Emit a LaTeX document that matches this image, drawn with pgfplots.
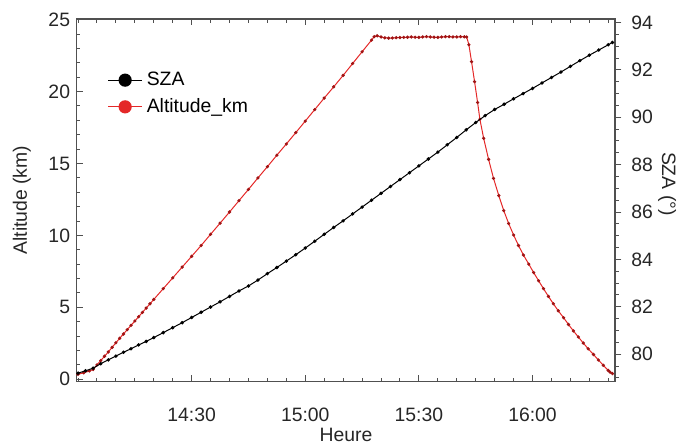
\documentclass[border=0pt]{standalone}
\usepackage{fontspec}
\setmainfont{Liberation Sans}
\usepackage{pgfplots}
\pgfplotsset{compat=1.18}

\definecolor{altred}{RGB}{228,40,40}
\definecolor{altdot}{RGB}{160,20,20}
\definecolor{axgray}{RGB}{80,80,80}

% minutes after 14:00
\pgfplotstableread{
t    alt
0    0.35
1.5  0.45
3    0.58
4    0.68
5    1.00
6    1.30
7    1.60
8    1.90
9    2.22
10   2.54
11   2.85
12   3.15
13   3.45
14   3.75
15   4.05
16   4.35
17   4.65
18   4.95
19   5.25
20   5.55
22.5 6.30
25   7.05
27.5 7.80
30   8.55
32.5 9.30
35   10.08
37.5 10.85
40   11.63
42.5 12.42
45   13.20
47.5 14.00
50   14.78
52.5 15.58
55   16.36
57.5 17.15
60   17.95
62.5 18.75
65   19.55
67.5 20.33
70   21.13
72.5 21.95
75   22.77
77.5 23.58
78.2 23.82
79   23.88
80   23.80
81   23.74
82   23.72
83   23.73
84   23.75
85   23.76
86   23.77
87   23.78
88   23.80
89   23.78
90   23.77
91   23.80
92   23.82
93   23.80
94   23.78
95   23.77
96   23.80
97   23.82
98   23.82
99   23.80
100  23.80
101  23.82
102  23.81
102.6 23.80
103.2 23.26
103.9 22.08
104.7 20.69
105.5 19.24
106.1 18.08
107.1 16.75
108.4 15.29
109.7 13.97
111.1 12.77
112.4 11.73
113.7 10.83
115.0 10.03
116.3 9.30
117.6 8.64
119.0 8.01
120.3 7.42
121.6 6.85
122.9 6.30
124.2 5.76
125.5 5.25
126.8 4.76
128.2 4.28
129.5 3.81
130.8 3.36
132.1 2.94
133.4 2.52
134.7 2.12
136.1 1.72
137.4 1.34
138.7 0.97
140.0 0.61
140.5 0.49
141.1 0.40
}\alttable

\pgfplotstableread{
t     sza
0     79.20
2     79.30
4     79.41
6     79.60
8     79.76
10    79.92
12    80.08
14    80.23
16    80.39
18    80.54
20    80.70
22.5  80.91
25    81.12
27.5  81.33
30    81.55
32.5  81.77
35    81.99
37.5  82.21
40    82.44
42.5  82.67
45    82.88
47.5  83.13
50    83.40
52.5  83.66
55    83.93
57.5  84.20
60    84.48
62.5  84.77
65    85.06
67.5  85.35
70    85.63
72.5  85.92
75    86.21
77.5  86.50
80    86.79
82.5  87.08
85    87.37
87.5  87.66
90    87.95
92.5  88.24
95    88.53
97.5  88.84
100   89.15
102.5 89.47
105   89.78
107.5 90.07
110   90.33
112.5 90.55
115   90.78
117.5 91.00
120   91.22
122.5 91.45
125   91.68
127.5 91.91
130   92.15
132.5 92.39
135   92.62
137.5 92.84
140   93.06
141.1 93.16
}\szatable

\pgfplotsset{
  base/.style={
    width=269.5pt, height=181.5pt, scale only axis,
    at={(0,0)}, anchor=south west,
    xmin=-0.3, xmax=141.8,
    /pgf/number format/assume math mode=true,
    tick label style={font=\fontsize{9.7}{11.6}\selectfont, text=black!85},
    label style={font=\fontsize{9.7}{11.6}\selectfont, text=black!85},
    axis line style={axgray, line width=0.6pt},
    major tick length=3.2pt, minor tick length=1.8pt,
    every tick/.style={axgray, line width=0.5pt},
  }
}

\begin{document}
\fontsize{9.7}{11.6}\selectfont
\begin{tikzpicture}
\path[use as bounding box] (-38.5pt,-31.5pt) rectangle (302pt,191pt);

\begin{axis}[base,
  ymin=-0.15, ymax=25.05,
  ytick={0,5,...,25}, minor ytick={0,1,...,25},
  xtick={30,60,90,120}, xticklabels={14:30,15:00,15:30,16:00},
  minor xtick={0,5,...,140},
  tick align=inside, ytick pos=left, xtick pos=both,
  xticklabel pos=bottom,
  xticklabel style={yshift=-10pt},
  xlabel={Heure}, ylabel={Altitude (km)},
  xlabel style={at={([yshift=-26.8pt]axis description cs:0.5,0)}, anchor=center},
  ylabel style={at={([xshift=-27.5pt]axis description cs:0,0.5)}, anchor=center},
  legend style={at={(axis description cs:0.045,0.877)}, anchor=north west,
    draw=none, fill=none, font=\fontsize{9.7}{11.6}\selectfont,
    row sep=1pt},
  legend cell align=left,
]
\addlegendimage{black, line width=0.6pt, mark=*, mark size=3pt}
\addlegendentry{SZA}
\addlegendimage{altred, line width=0.6pt, mark=*, mark size=3pt, mark options={fill=altred, draw=altred}}
\addlegendentry{Altitude\_km}
\addplot[altred, line width=0.5pt, mark=*, mark size=0.55pt,
  mark options={fill=altdot, draw=altdot}, forget plot] table[x=t, y=alt] {\alttable};
\end{axis}

\begin{axis}[base,
  axis x line=none, axis y line*=right,
  ymin=78.85, ymax=94.15,
  ytick={80,82,...,94}, minor ytick={79,79.5,...,94},
  tick align=outside,
  yticklabel style={xshift=1.5pt},
  ylabel={SZA (°)},
  ylabel style={at={([xshift=26pt]axis description cs:1,0.545)}, anchor=center, rotate=180},
]
\addplot[black, line width=0.5pt, mark=*, mark size=0.6pt] table[x=t, y=sza] {\szatable};
\end{axis}
\end{tikzpicture}
\end{document}
